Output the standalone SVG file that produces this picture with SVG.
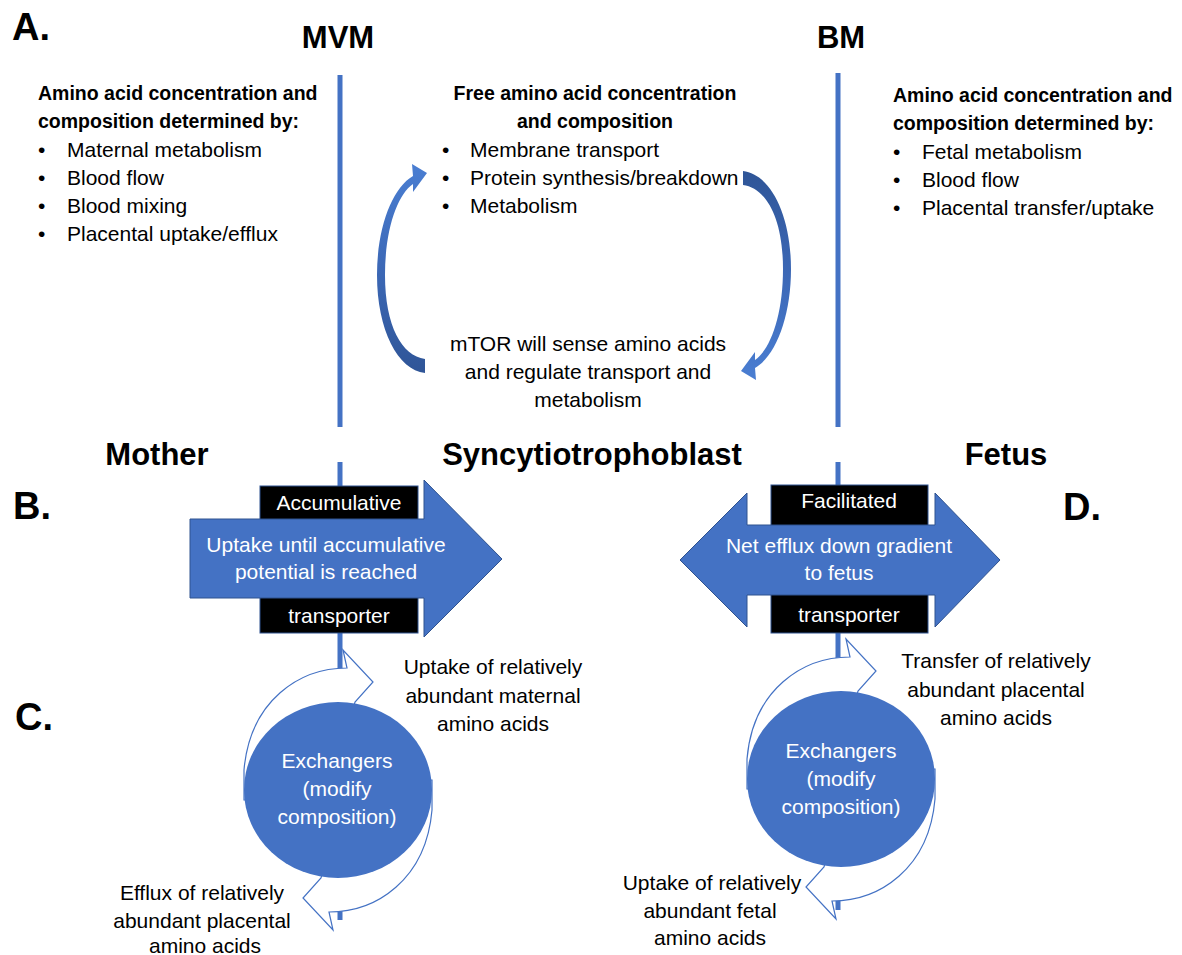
<svg xmlns="http://www.w3.org/2000/svg" width="1182" height="955" viewBox="0 0 1182 955">
<style>
text{font-family:"Liberation Sans",Arial,sans-serif;fill:#000}
.t{font-size:21px}
.h{font-size:19.5px;font-weight:bold}
.big{font-size:31px;font-weight:bold}
.lab{font-size:38px;font-weight:bold}
.w{fill:#fff}
.c{text-anchor:middle}
.mem{stroke:#4472C4;stroke-width:5;fill:none}
.ring{fill:#fff;stroke:#4472C4;stroke-width:1.2}
.blue{fill:#4472C4;stroke:#2F528F;stroke-width:1}
.box{fill:#000;stroke:#2F528F;stroke-width:1}
</style>
<defs>
<linearGradient id="g" x1="0" y1="0" x2="0" y2="1">
<stop offset="0" stop-color="#4A7ED2"/>
<stop offset="0.5" stop-color="#3C68B6"/>
<stop offset="1" stop-color="#2F5597"/>
</linearGradient>
<path id="ringArrow" d="M 244 800 L 244 770 C 250 700 300 668 347 668 L 343 650 L 373 682 L 355 702 L 352 712 C 300 716 268 745 262 800 Z"/>
<path id="arc" d="M 425 373 C 398 370 377 330 377 275 C 377 228 392 188 413 176 L 412 164 L 427 173 L 413 192 L 413 184 C 397 195 385 230 385 275 C 385 326 402 356 425 359 Z"/>
</defs>

<g id="labels">
<text class="lab" x="12" y="40">A.</text>
<text class="lab" x="13" y="519">B.</text>
<text class="lab" x="15" y="730">C.</text>
<text class="lab" x="1063" y="520">D.</text>
<text class="big c" x="338" y="48" style="font-size:31px">MVM</text>
<text class="big c" x="841" y="48" style="font-size:31px">BM</text>
<text class="big c" x="157" y="465">Mother</text>
<text class="big c" x="592" y="465">Syncytiotrophoblast</text>
<text class="big c" x="1006" y="465">Fetus</text>
</g>

<g id="connectors">
<line class="mem" x1="340" y1="75" x2="340" y2="427"/>
<line class="mem" x1="838" y1="73" x2="838" y2="427"/>
<line class="mem" x1="340" y1="462" x2="340" y2="920"/>
<line class="mem" x1="838" y1="462" x2="838" y2="910"/>
<use href="#arc" fill="url(#g)"/>
<use href="#arc" fill="url(#g)" transform="rotate(180 584 272)"/>
</g>

<g id="maternal-text">
<text class="h" x="38" y="100">Amino acid concentration and</text>
<text class="h" x="38" y="128">composition determined by:</text>
<text class="t" x="38" y="157">•</text><text class="t" x="67" y="157">Maternal metabolism</text>
<text class="t" x="38" y="185">•</text><text class="t" x="67" y="185">Blood flow</text>
<text class="t" x="38" y="213">•</text><text class="t" x="67" y="213">Blood mixing</text>
<text class="t" x="38" y="241">•</text><text class="t" x="67" y="241">Placental uptake/efflux</text>
</g>

<g id="syncytio-text">
<text class="h c" x="595" y="100">Free amino acid concentration</text>
<text class="h c" x="595" y="128">and composition</text>
<text class="t" x="442" y="157">•</text><text class="t" x="470" y="157">Membrane transport</text>
<text class="t" x="442" y="185">•</text><text class="t" x="470" y="185">Protein synthesis/breakdown</text>
<text class="t" x="442" y="213">•</text><text class="t" x="470" y="213">Metabolism</text>
</g>

<g id="mtor-text">
<text class="t c" x="588" y="351">mTOR will sense amino acids</text>
<text class="t c" x="588" y="379">and regulate transport and</text>
<text class="t c" x="588" y="407">metabolism</text>
</g>

<g id="fetal-text">
<text class="h" x="893" y="102">Amino acid concentration and</text>
<text class="h" x="893" y="130">composition determined by:</text>
<text class="t" x="893" y="159">•</text><text class="t" x="922" y="159">Fetal metabolism</text>
<text class="t" x="893" y="187">•</text><text class="t" x="922" y="187">Blood flow</text>
<text class="t" x="893" y="215">•</text><text class="t" x="922" y="215">Placental transfer/uptake</text>
</g>

<g id="accumulative-transporter">
<rect class="box" x="260" y="486" width="158" height="147"/>
<path class="blue" d="M 190 519 L 424 519 L 424 480 L 502 559 L 424 637 L 424 598 L 190 598 Z"/>
<text class="t w c" x="339" y="510">Accumulative</text>
<text class="t w c" x="326" y="552">Uptake until accumulative</text>
<text class="t w c" x="326" y="579">potential is reached</text>
<text class="t w c" x="339" y="623">transporter</text>
</g>

<g id="facilitated-transporter">
<rect class="box" x="771" y="485" width="157" height="148"/>
<path class="blue" d="M 680 560 L 747 493 L 747 525 L 935 525 L 935 493 L 1000 560 L 935 627 L 935 595 L 747 595 L 747 627 Z"/>
<text class="t w c" x="849" y="508">Facilitated</text>
<text class="t w c" x="839" y="553">Net efflux down gradient</text>
<text class="t w c" x="839" y="580">to fetus</text>
<text class="t w c" x="849" y="622">transporter</text>
</g>

<g id="maternal-exchanger">
<use href="#ringArrow" class="ring"/>
<use href="#ringArrow" class="ring" transform="rotate(180 338 790)"/>
<ellipse cx="338" cy="790" rx="94" ry="88" fill="#4472C4"/>
<text class="t w c" x="337" y="768">Exchangers</text>
<text class="t w c" x="337" y="796">(modify</text>
<text class="t w c" x="337" y="824">composition)</text>
<text class="t c" x="493" y="674">Uptake of relatively</text>
<text class="t c" x="493" y="703">abundant maternal</text>
<text class="t c" x="493" y="731">amino acids</text>
<text class="t c" x="202" y="900">Efflux of relatively</text>
<text class="t c" x="202" y="928">abundant placental</text>
<text class="t c" x="205" y="953">amino acids</text>
</g>

<g id="fetal-exchanger">
<g transform="translate(503 -11)">
<use href="#ringArrow" class="ring"/>
<use href="#ringArrow" class="ring" transform="rotate(180 338 790)"/>
<ellipse cx="338" cy="790" rx="94" ry="88" fill="#4472C4"/>
</g>
<text class="t w c" x="841" y="758">Exchangers</text>
<text class="t w c" x="841" y="786">(modify</text>
<text class="t w c" x="841" y="814">composition)</text>
<text class="t c" x="996" y="668">Transfer of relatively</text>
<text class="t c" x="996" y="697">abundant placental</text>
<text class="t c" x="996" y="725">amino acids</text>
<text class="t c" x="712" y="890">Uptake of relatively</text>
<text class="t c" x="710" y="918">abundant fetal</text>
<text class="t c" x="710" y="945">amino acids</text>
</g>
</svg>
